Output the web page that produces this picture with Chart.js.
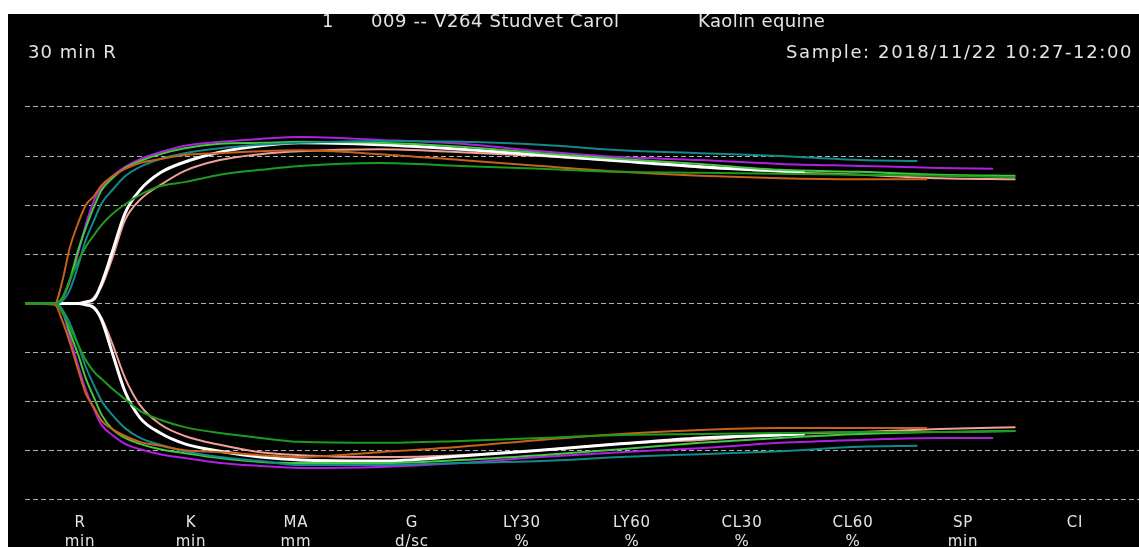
<!DOCTYPE html>
<html>
<head>
<meta charset="utf-8">
<script src="https://cdn.jsdelivr.net/npm/chart.js@4.4.1/dist/chart.umd.min.js"></script>
<style>
  html, body { margin: 0; background: #fff; }
  #panel {
    position: absolute; left: 8px; top: 14px; width: 1131px; height: 533px;
    background: #000; overflow: hidden;
    font-family: "DejaVu Sans", sans-serif; color: #e4e4e4;
  }
  #panel canvas { position: absolute; left: 0; top: 0; }
  .hdr { position: absolute; white-space: nowrap; font-size: 18px; line-height: 18px; letter-spacing: 1px; }
  .par { position: absolute; width: 90px; text-align: center; font-size: 15px; line-height: 19px; letter-spacing: 0.8px; }
</style>
</head>
<body>
<div id="panel">
  <canvas id="teg" width="1131" height="533"></canvas>
  <div class="hdr" style="left:314px; top:-2px;">1</div>
  <div class="hdr" style="left:363px; top:-2px; letter-spacing:0.6px;">009 -- V264 Studvet Carol</div>
  <div class="hdr" style="left:690px; top:-2px; letter-spacing:0.4px;">Kaolin equine</div>
  <div class="hdr" style="left:20px; top:29px;">30 min R</div>
  <div class="hdr" style="right:6px; top:29px; letter-spacing:1.6px;">Sample: 2018/11/22 10:27-12:00</div>
  <div id="params"></div>
</div>
<script>
// time axis in minutes, amplitude in mm (upper half +, lower half -)
const timeMin = [0, 2.8, 3.5, 4.2, 5.0, 5.7, 6.5, 7.2, 8.2, 9.4, 10.8, 12.7, 15.0,
  18.3, 22.1, 25.8, 33.3, 40.9, 48.4, 55.9, 63.4, 70.9, 78.4, 85.9, 93.0];

const gridMm = [-40, -30, -20, -10, 0, 10, 20, 30, 40];

const paramNames = ["R", "K", "MA", "G", "LY30", "LY60", "CL30", "CL60", "SP", "CI"];
const paramUnits = ["min", "min", "mm", "d/sc", "%", "%", "%", "%", "min", ""];
const paramX = [72, 183, 288, 404, 514, 624, 734, 845, 955, 1067];

// trace end times (the shorter ones stop early)
const orangeTime = timeMin.slice(0, 23).concat([84.7]);
const tealTime = timeMin.slice(0, 23).concat([83.8]);
const purpleTime = timeMin.slice(0, 24).concat([90.9]);
const whiteTime = timeMin.slice(0, 22).concat([73.2]);

const orangeUp = [0, 0, 4.5, 11.3, 16.4, 20.0, 21.9, 24.1, 25.9, 27.4, 28.6, 29.4, 30.2,
  30.6, 31.0, 31.2, 30.4, 29.2, 28.0, 26.8, 26.0, 25.5, 25.3, 25.3];
const orangeLo = [0, -0.3, -3.5, -7.9, -13.6, -18.3, -21.3, -23.9, -25.6, -27.0, -28.2, -29.0, -29.9,
  -30.3, -30.9, -31.3, -30.3, -29.2, -27.8, -26.6, -25.8, -25.4, -25.4, -25.4];

const purpleUp = [0, 0, 1.0, 4.4, 10.3, 16.0, 21.1, 23.7, 25.9, 27.8, 29.4, 30.8, 32.1,
  32.9, 33.5, 33.9, 33.3, 32.5, 31.0, 29.8, 29.2, 28.4, 28.0, 27.6, 27.4];
const purpleLo = [0, 0, -1.5, -6.8, -12.8, -17.6, -21.7, -24.8, -26.8, -28.6, -29.7, -30.7, -31.5,
  -32.5, -33.1, -33.5, -33.3, -32.5, -31.3, -30.3, -29.5, -28.4, -27.8, -27.4, -27.4];

const lightGreenUp = [0, 0, 1.1, 4.8, 10.9, 15.3, 19.8, 23.1, 25.5, 27.6, 29.0, 30.4, 31.6,
  32.5, 32.7, 32.9, 32.7, 31.9, 30.6, 29.4, 28.4, 27.2, 26.8, 26.2, 26.0];
const lightGreenLo = [0, 0, -1.3, -5.8, -10.5, -15.2, -19.3, -22.7, -25.6, -27.4, -28.6, -29.7, -30.5,
  -31.5, -32.3, -32.5, -32.5, -31.9, -30.9, -29.7, -28.4, -27.4, -26.6, -26.2, -26.0];

const tealUp = [0, 0, 0.5, 2.7, 7.8, 12.9, 17.0, 20.4, 23.1, 25.9, 27.8, 29.4, 30.6,
  31.6, 32.3, 32.7, 33.1, 32.9, 32.3, 31.2, 30.6, 30.0, 29.2, 29.0];
const tealLo = [0, 0, -1.3, -4.0, -8.5, -12.9, -16.8, -19.9, -22.7, -25.4, -27.4, -28.8, -30.1,
  -31.3, -32.1, -32.9, -32.9, -32.5, -32.1, -31.3, -30.7, -30.1, -29.2, -29.0];

const darkGreenUp = [0, 0, 1.1, 4.8, 8.6, 11.5, 14.0, 16.0, 18.2, 20.2, 22.1, 23.9, 24.7,
  26.2, 27.2, 28.0, 28.6, 28.0, 27.4, 26.8, 26.6, 26.4, 26.2, 26.0, 25.7];
const darkGreenLo = [0, 0, -1.9, -4.8, -8.5, -11.5, -14.0, -15.4, -17.4, -19.5, -21.9, -23.7, -25.2,
  -26.4, -27.4, -28.2, -28.4, -28.0, -27.4, -26.8, -26.6, -26.4, -26.2, -26.2, -26.0];

const whiteUp = [0, 0, 0, 0, 0, 0.3, 0.9, 4.1, 10.5, 18.4, 23.1, 26.6, 28.8,
  30.8, 32.1, 32.7, 32.3, 31.4, 30.2, 29.0, 27.8, 27.0, 26.8];
const whiteLo = [0, 0, 0, 0, 0, -0.3, -0.9, -3.4, -10.1, -18.0, -23.3, -26.4, -28.6,
  -30.1, -31.3, -31.9, -32.1, -31.1, -29.9, -28.6, -27.4, -26.8, -26.6];

const pinkUp = [0, 0, 0, 0, 0, 0, 1.3, 3.5, 9.2, 17.0, 21.1, 24.1, 27.0,
  29.2, 30.4, 31.0, 31.4, 30.8, 30.0, 29.0, 28.0, 26.8, 26.2, 25.5, 25.3];
const pinkLo = [0, 0, 0, 0, 0, 0, -1.1, -3.0, -8.2, -15.2, -20.7, -24.6, -27.0,
  -28.8, -30.3, -30.9, -31.3, -30.9, -29.9, -28.6, -27.8, -26.6, -26.2, -25.6, -25.2];

const traces = [
  { color: "#1c9c1c", width: 2, time: timeMin, up: darkGreenUp, lo: darkGreenLo },
  { color: "#c8621a", width: 2, time: orangeTime, up: orangeUp, lo: orangeLo },
  { color: "#128a8a", width: 2, time: tealTime, up: tealUp, lo: tealLo },
  { color: "#44c844", width: 2, time: timeMin, up: lightGreenUp, lo: lightGreenLo },
  { color: "#b020e0", width: 2, time: purpleTime, up: purpleUp, lo: purpleLo },
  { color: "#ffffff", width: 3, time: whiteTime, up: whiteUp, lo: whiteLo },
  { color: "#f0a098", width: 2, time: timeMin, up: pinkUp, lo: pinkLo },
];

const datasets = [];
traces.forEach((tr) => {
  [tr.up, tr.lo].forEach((vals) => {
    datasets.push({
      data: tr.time.map((t, i) => ({ x: t, y: vals[i] })),
      borderColor: tr.color,
      borderWidth: tr.width,
      pointRadius: 0,
      fill: false,
      cubicInterpolationMode: "monotone",
    });
  });
});

const params = document.getElementById("params");
paramNames.forEach((name, i) => {
  const d = document.createElement("div");
  d.className = "par";
  d.style.left = (paramX[i] - 45) + "px";
  d.style.top = "499px";
  d.innerHTML = name + "<br>" + paramUnits[i];
  params.appendChild(d);
});

new Chart(document.getElementById("teg"), {
  type: "line",
  data: { datasets: datasets },
  options: {
    responsive: false,
    animation: false,
    devicePixelRatio: 1,
    layout: { padding: { left: 17, right: 0, top: 0, bottom: 0 } },
    plugins: { legend: { display: false }, tooltip: { enabled: false } },
    scales: {
      x: { type: "linear", display: false, min: 0, max: 104.6 },
      y: {
        type: "linear",
        min: -49.61,
        max: 58.94,
        afterFit: (s) => { s.width = 0; },
        afterBuildTicks: (s) => { s.ticks = gridMm.map((v) => ({ value: v })); },
        ticks: { display: false },
        grid: { color: "#b4b4b4", lineWidth: 1, drawTicks: false },
        border: { display: false, dash: [5, 3] },
      },
    },
  },
});
</script>
</body>
</html>
